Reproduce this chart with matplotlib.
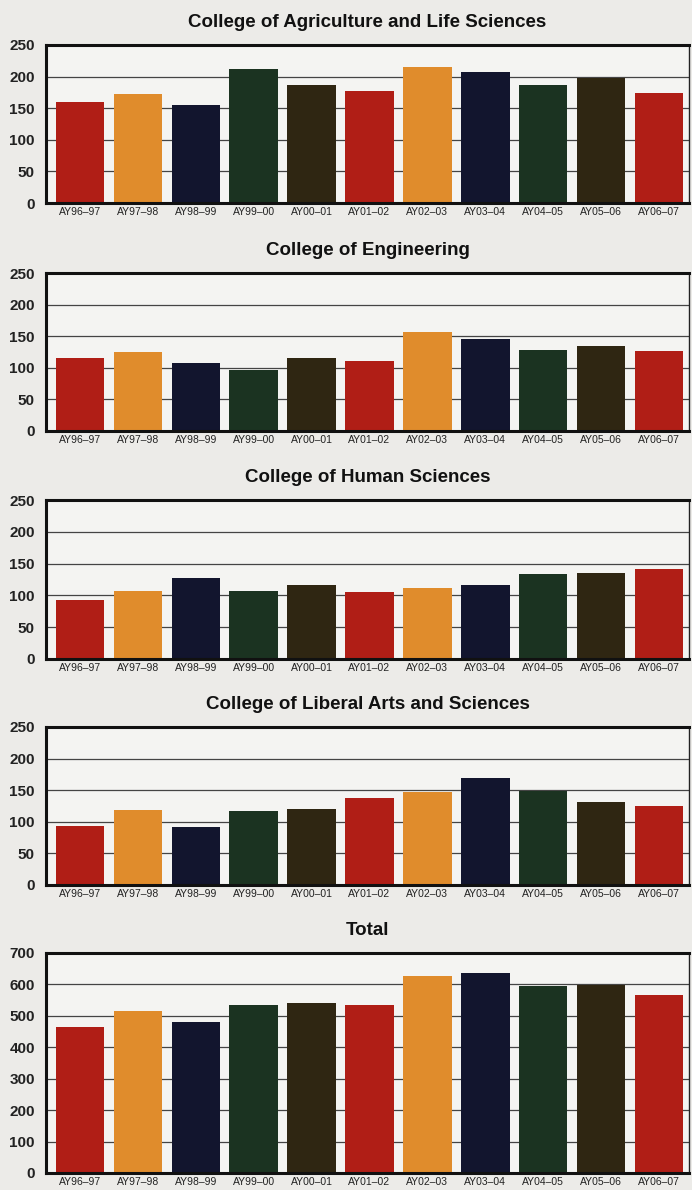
#!/usr/bin/env python3
"""Enrollment by college, AY96-97 to AY06-07, five stacked bar panels."""
import matplotlib.pyplot as plt

years = ["AY96–97", "AY97–98", "AY98–99", "AY99–00", "AY00–01", "AY01–02",
         "AY02–03", "AY03–04", "AY04–05", "AY05–06", "AY06–07"]

agriculture = [160, 173, 155, 212, 187, 178, 215, 207, 186, 197, 174]
engineering = [116, 125, 108, 97, 116, 110, 157, 146, 128, 135, 126]
human_sciences = [92, 107, 127, 107, 116, 105, 111, 117, 133, 135, 142]
liberal_arts = [94, 118, 92, 117, 121, 137, 147, 170, 149, 131, 125]
total = [463, 516, 482, 534, 542, 534, 628, 636, 594, 597, 567]

titles = ["College of Agriculture and Life Sciences", "College of Engineering",
          "College of Human Sciences", "College of Liberal Arts and Sciences",
          "Total"]
series = [agriculture, engineering, human_sciences, liberal_arts, total]
ymaxes = [250, 250, 250, 250, 700]
ysteps = [50, 50, 50, 50, 100]

bar_colors = ["#b01e16", "#e08c2c", "#12152e", "#1b3321", "#2f2612"]

# panel boxes in pixels: (top, bottom)
W, H = 692, 1190
boxes = [(45, 203), (273, 431), (500, 659), (727, 885), (953, 1173)]
left_px, right_px = 46, 689

plt.rcParams["font.family"] = ["Liberation Sans", "DejaVu Sans"]
fig = plt.figure(figsize=(W / 100, H / 100), dpi=100, facecolor="#ecebe8")

for title, vals, ymax, step, (top, bot) in zip(titles, series, ymaxes, ysteps, boxes):
    ax = fig.add_axes([left_px / W, 1 - bot / H, (right_px - left_px) / W, (bot - top) / H])
    ax.set_facecolor("#f4f4f2")
    xs = range(len(years))
    cols = [bar_colors[i % len(bar_colors)] for i in xs]
    ax.bar(xs, vals, width=0.84, color=cols, zorder=2)
    ax.set_xlim(-0.59, 10.52)
    ax.set_ylim(0, ymax)
    ax.set_yticks(range(0, ymax + 1, step))
    ax.set_yticklabels([str(v) for v in range(0, ymax + 1, step)],
                       fontsize=11, fontweight="bold", color="#222222")
    ax.set_xticks(list(xs))
    ax.set_xticklabels(years, fontsize=7.5, color="#222222")
    ax.tick_params(axis="both", length=0, pad=3)
    ax.tick_params(axis="y", pad=8)
    ax.grid(axis="y", color="#444444", linewidth=0.9, zorder=1)
    for side in ["left", "bottom", "top"]:
        ax.spines[side].set_linewidth(2.2)
        ax.spines[side].set_color("#111111")
    ax.spines["right"].set_linewidth(1.0)
    ax.spines["right"].set_color("#222222")
    ax.set_title(title, fontsize=13.5, fontweight="bold", color="#111111", pad=13)

fig.savefig("out.png", dpi=100, facecolor=fig.get_facecolor())
